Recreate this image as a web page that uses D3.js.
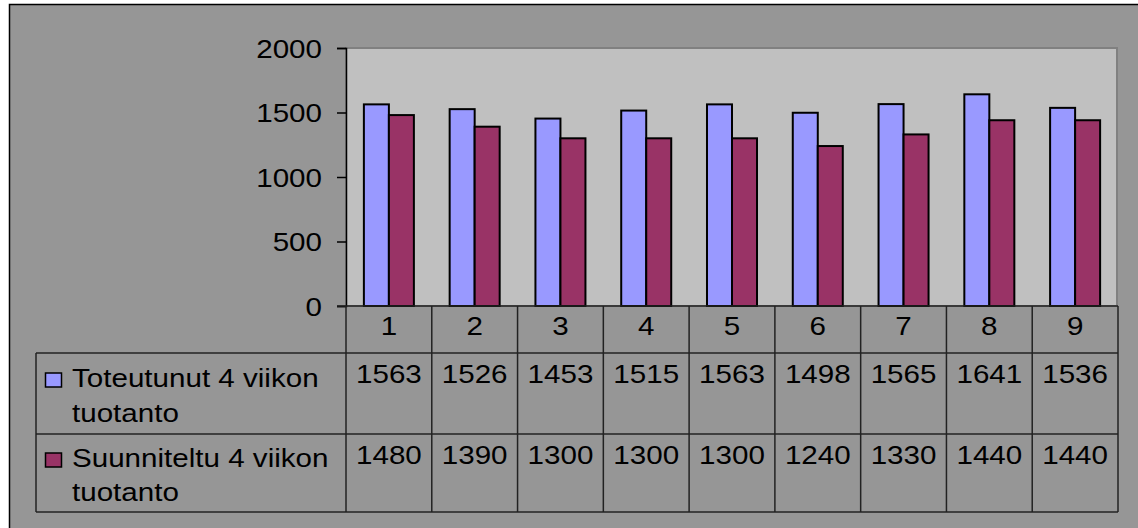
<!DOCTYPE html>
<html>
<head>
<meta charset="utf-8">
<script src="https://cdn.jsdelivr.net/npm/d3@7"></script>
<style>
  html, body { margin: 0; padding: 0; background: #ffffff; }
  svg { display: block; }
  text { font-family: "Liberation Sans", Arial, sans-serif; fill: #000; }
</style>
</head>
<body>
<svg id="chart" width="1138" height="528"></svg>
<script>
// Weekly production data (4-week periods)
const categories = ["1", "2", "3", "4", "5", "6", "7", "8", "9"];
const actual = [1563, 1526, 1453, 1515, 1563, 1498, 1565, 1641, 1536];
const planned = [1480, 1390, 1300, 1300, 1300, 1240, 1330, 1440, 1440];
const seriesNames = [
  ["Toteutunut 4 viikon", "tuotanto"],
  ["Suunniteltu 4 viikon", "tuotanto"]
];
const seriesColors = ["#9999ff", "#993366"];
const yTicks = [0, 500, 1000, 1500, 2000];

const svg = d3.select("#chart");
const fontSize = 25.5;
const stretch = 1.16;

// layout
const plotLeft = 346, plotRight = 1118, plotTop = 48, plotBottom = 306;
const tableLeft = 36, headerBottom = 353, rowDivider = 434, tableBottom = 512;

// chart background with frame
svg.append("rect")
  .attr("x", 9.5).attr("y", 4.5)
  .attr("width", 1200).attr("height", 600)
  .attr("fill", "#969696")
  .attr("stroke", "#000").attr("stroke-width", 1.5);

// plot area
svg.append("rect")
  .attr("x", plotLeft).attr("y", plotTop)
  .attr("width", plotRight - plotLeft - 1).attr("height", plotBottom - plotTop)
  .attr("fill", "#c0c0c0")
  .attr("stroke", "#808080").attr("stroke-width", 2);

const x = d3.scaleBand()
  .domain(categories)
  .range([plotLeft, plotRight])
  .paddingInner(0.417)
  .paddingOuter(0.2085);

const x1 = d3.scaleBand()
  .domain([0, 1])
  .range([0, x.bandwidth()]);

const y = d3.scaleLinear().domain([0, 2000]).range([plotBottom, plotTop]);

// bars
const series = [actual, planned];
series.forEach((vals, si) => {
  svg.append("g").selectAll("rect")
    .data(vals)
    .join("rect")
    .attr("x", (d, i) => x(categories[i]) + x1(si))
    .attr("y", d => y(d))
    .attr("width", x1.bandwidth())
    .attr("height", d => y(0) - y(d))
    .attr("fill", seriesColors[si])
    .attr("stroke", "#000")
    .attr("stroke-width", 2);
});

// y axis
const yAxis = d3.axisLeft(y).tickValues(yTicks).tickFormat(d3.format("d")).tickSize(9).tickPadding(15);
const yg = svg.append("g").attr("transform", `translate(${plotLeft},0)`).call(yAxis);
yg.select(".domain").attr("stroke", "#000").attr("stroke-width", 1.5);
yg.selectAll(".tick line").attr("stroke", "#000").attr("stroke-width", 1.5);
yg.selectAll(".tick text")
  .attr("font-size", fontSize)
  .attr("font-family", "Liberation Sans, Arial, sans-serif")
  .attr("dy", null)
  .attr("x", null)
  .attr("transform", `translate(-24,9) scale(${stretch},1)`);

// data table grid
const lineColor = "#222";
const grid = svg.append("g").attr("stroke", lineColor).attr("stroke-width", 1.5);
// baseline / top of header row
grid.append("line").attr("x1", plotLeft - 9).attr("x2", plotRight).attr("y1", plotBottom).attr("y2", plotBottom);
grid.append("line").attr("x1", tableLeft).attr("x2", plotRight).attr("y1", headerBottom).attr("y2", headerBottom);
grid.append("line").attr("x1", tableLeft).attr("x2", plotRight).attr("y1", rowDivider).attr("y2", rowDivider);
grid.append("line").attr("x1", tableLeft).attr("x2", plotRight).attr("y1", tableBottom).attr("y2", tableBottom);
grid.append("line").attr("x1", tableLeft).attr("x2", tableLeft).attr("y1", headerBottom).attr("y2", tableBottom);
const step = x.step();
categories.forEach((c, i) => {
  const cx = plotLeft + step * i;
  grid.append("line").attr("x1", cx).attr("x2", cx).attr("y1", plotBottom).attr("y2", tableBottom);
});
grid.append("line").attr("x1", plotRight).attr("x2", plotRight).attr("y1", plotBottom).attr("y2", tableBottom);

function putText(str, tx, ty, anchor) {
  svg.append("text")
    .attr("text-anchor", anchor)
    .attr("font-size", fontSize)
    .attr("transform", `translate(${tx},${ty}) scale(${stretch},1)`)
    .text(str);
}

// category header and values
categories.forEach((c, i) => {
  const cx = x(c) + x.bandwidth() / 2;
  putText(c, cx, 335, "middle");
  putText(String(actual[i]), cx, 383, "middle");
  putText(String(planned[i]), cx, 464, "middle");
});

// legend keys inside the table
const rowBaselines = [[387, 422], [467, 501]];
seriesNames.forEach((lines, si) => {
  const b = rowBaselines[si];
  svg.append("rect")
    .attr("x", 45.5).attr("y", b[0] - 14)
    .attr("width", 16).attr("height", 14)
    .attr("fill", seriesColors[si])
    .attr("stroke", "#000").attr("stroke-width", 1.5);
  putText(lines[0], 72, b[0], "start");
  putText(lines[1], 72, b[1], "start");
});
</script>
</body>
</html>
